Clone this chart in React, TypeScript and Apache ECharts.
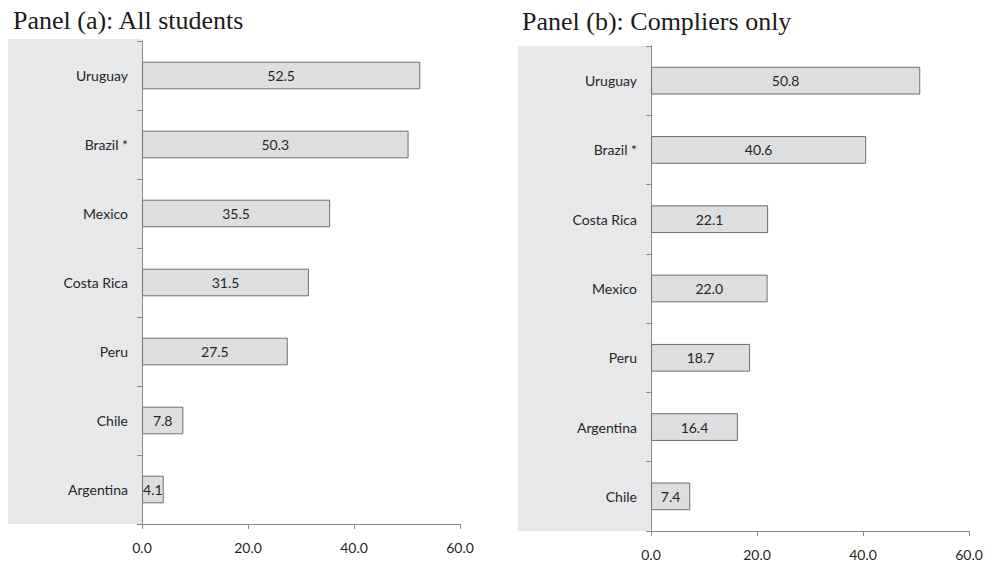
import { useEffect, useRef } from "react";
import * as echarts from "echarts";

// Panel (a): all students
const countriesA = ["Uruguay", "Brazil *", "Mexico", "Costa Rica", "Peru", "Chile", "Argentina"];
const valuesA = [52.5, 50.3, 35.5, 31.5, 27.5, 7.8, 4.1];

// Panel (b): compliers only
const countriesB = ["Uruguay", "Brazil *", "Costa Rica", "Mexico", "Peru", "Argentina", "Chile"];
const valuesB = [50.8, 40.6, 22.1, 22.0, 18.7, 16.4, 7.4];

const panelTitles = ["Panel (a): All students", "Panel (b): Compliers only"];
const xMin = 0;
const xMax = 60;
const xStep = 20;

const SANS = "Lato, 'Open Sans', sans-serif";
const SERIF = "'Liberation Serif', 'DejaVu Serif', serif";
const AXIS_GRAY = "#8a8a8a";
const TEXT = "#262626";

export default function App() {
  const ref = useRef<HTMLDivElement>(null);

  useEffect(() => {
    if (!ref.current) return;
    const chart = echarts.init(ref.current, null, { renderer: "svg" });

    const grids = [
      { left: 142, top: 41, width: 318, height: 483 },
      { left: 651, top: 46, width: 318, height: 485 },
    ];

    const xAxis = grids.map((_, i) => ({
      type: "value" as const,
      gridIndex: i,
      min: xMin,
      max: xMax,
      interval: xStep,
      splitLine: { show: false },
      axisLine: { show: true, lineStyle: { color: AXIS_GRAY, width: 1 } },
      axisTick: { show: true, length: 5, lineStyle: { color: AXIS_GRAY } },
      axisLabel: {
        margin: 16,
        fontSize: 14,
        fontFamily: SANS,
        color: TEXT,
        formatter: (v: number) => v.toFixed(1),
      },
    }));

    const cats = [countriesA, countriesB];
    const yAxis = cats.map((data, i) => ({
      type: "category" as const,
      gridIndex: i,
      data,
      inverse: true,
      axisLine: { show: true, lineStyle: { color: AXIS_GRAY, width: 1 } },
      axisTick: { show: true, length: 5, lineStyle: { color: AXIS_GRAY } },
      axisLabel: { margin: 14, fontSize: 14, fontFamily: SANS, color: TEXT },
      splitLine: { show: false },
    }));

    const vals = [valuesA, valuesB];
    const series = vals.map((data, i) => ({
      type: "bar" as const,
      xAxisIndex: i,
      yAxisIndex: i,
      data,
      barWidth: "40%",
      itemStyle: { color: "#dddee0", borderColor: "#6e6e6e", borderWidth: 1 },
      label: {
        show: true,
        position: "inside" as const,
        fontSize: 14,
        fontFamily: SANS,
        color: TEXT,
        formatter: (p: any) => Number(p.value).toFixed(1),
      },
    }));

    chart.setOption({
      animation: false,
      backgroundColor: "#ffffff",
      title: [
        {
          text: panelTitles[0],
          left: 8,
          top: 2,
          textStyle: { fontFamily: SERIF, fontSize: 26, fontWeight: "normal", color: "#1a1a1a" },
        },
        {
          text: panelTitles[1],
          left: 517,
          top: 3,
          textStyle: { fontFamily: SERIF, fontSize: 26, fontWeight: "normal", color: "#1a1a1a" },
        },
      ],
      graphic: [
        {
          type: "rect",
          z: -10,
          silent: true,
          shape: { x: 8, y: 39, width: 134, height: 485 },
          style: { fill: "#e7e8ea" },
        },
        {
          type: "rect",
          z: -10,
          silent: true,
          shape: { x: 518, y: 46, width: 133, height: 485 },
          style: { fill: "#e7e8ea" },
        },
      ],
      grid: grids,
      xAxis,
      yAxis,
      series,
    });

    return () => chart.dispose();
  }, []);

  return (
    <div
      ref={ref}
      style={{ position: "absolute", left: 0, top: 0, width: 988, height: 561 }}
    />
  );
}
